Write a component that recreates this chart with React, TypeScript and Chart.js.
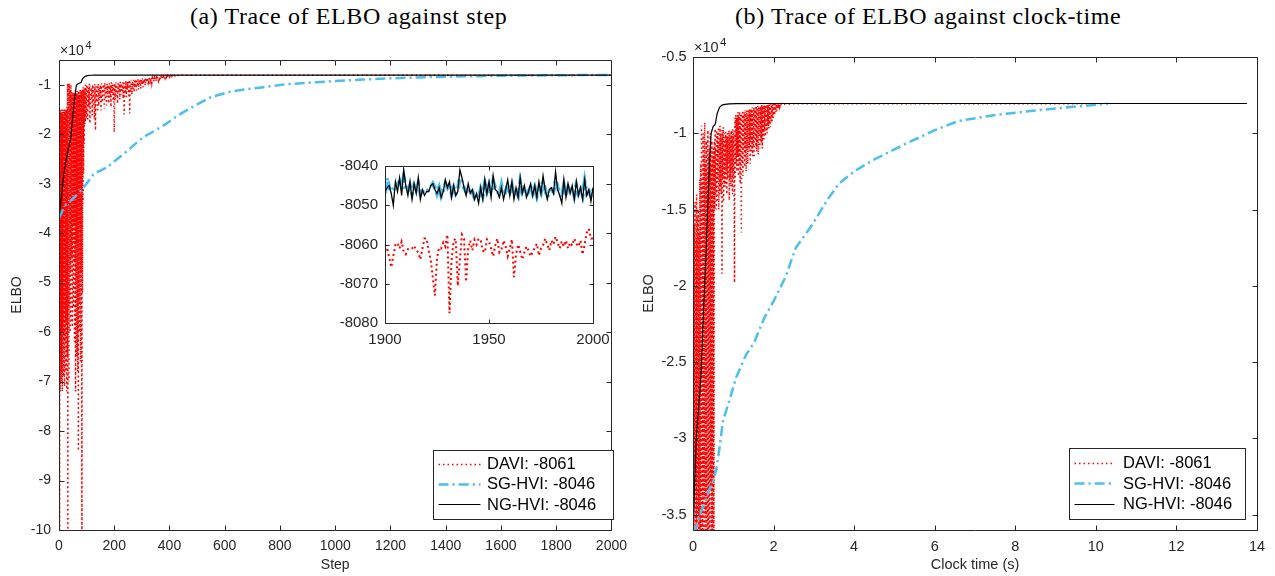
import React, { useEffect, useRef } from "react";
import { Chart, registerables } from "chart.js";

Chart.register(...registerables);

const FONT = "'Liberation Sans', Arial, Helvetica, sans-serif";
const AXIS_COLOR = "#262626";

// ---------- text ----------
const TITLE_A = "(a) Trace of ELBO against step";
const TITLE_B = "(b) Trace of ELBO against clock-time";
const Y_LABEL = "ELBO";
const X_LABEL_A = "Step";
const X_LABEL_B = "Clock time (s)";
const EXP_BASE = "×10";
const EXP_POWER = "4";
const SERIES_NAMES = ["DAVI: -8061", "SG-HVI: -8046", "NG-HVI: -8046"];
const SERIES_COLORS = ["#FF0000", "#4DBEEE", "#000000"];

// ---------- tick values ----------
const X_TICKS_A = [0, 200, 400, 600, 800, 1000, 1200, 1400, 1600, 1800, 2000];
const Y_TICKS_A = [-10, -9, -8, -7, -6, -5, -4, -3, -2, -1];
const X_TICKS_INSET = [1900, 1950, 2000];
const Y_TICKS_INSET = [-8080, -8070, -8060, -8050, -8040];
const X_TICKS_B = [0, 2, 4, 6, 8, 10, 12, 14];
const Y_TICKS_B = [-3.5, -3, -2.5, -2, -1.5, -1, -0.5];

// ---------- inset (steps 1900..2000, raw ELBO) ----------
const INSET_START = 1900;
const DAVI_INSET = [
  -8061.5, -8060.8, -8063.2, -8065.8, -8062.9, -8060.1, -8059.6, -8061.0, -8059.3, -8061.9,
  -8062.5, -8061.2, -8060.9, -8061.0, -8060.3, -8061.5, -8062.0, -8063.8, -8061.0, -8058.5,
  -8058.5, -8061.5, -8064.0, -8068.5, -8073.0, -8063.5, -8060.8, -8061.0, -8059.5, -8060.5,
  -8057.5, -8077.5, -8064.0, -8059.0, -8058.5, -8070.5, -8064.0, -8057.5, -8058.5, -8069.5,
  -8061.0, -8059.0, -8061.5, -8058.8, -8060.0, -8058.5, -8059.0, -8061.5, -8062.0, -8058.7,
  -8059.2, -8061.0, -8063.0, -8060.2, -8058.5, -8062.0, -8061.2, -8059.0, -8060.5, -8063.0,
  -8061.0, -8058.7, -8068.3, -8062.5, -8060.0, -8061.8, -8063.8, -8062.0, -8060.5, -8061.5,
  -8063.0, -8062.0, -8060.8, -8059.8, -8062.8, -8061.0, -8060.2, -8058.5, -8060.0, -8061.5,
  -8059.0, -8060.0, -8058.0, -8059.5, -8061.0, -8059.2, -8060.5, -8059.0, -8061.0, -8059.5,
  -8060.3, -8058.5, -8059.8, -8060.5, -8059.0, -8062.5, -8060.0, -8057.0, -8056.0, -8058.5, -8058.5,
];
const SG_INSET = [
  -8047.0, -8043.0, -8045.5, -8046.5, -8046.0, -8045.0, -8044.5, -8044.0, -8046.0, -8043.0,
  -8045.5, -8046.5, -8045.0, -8047.0, -8045.0, -8046.0, -8044.5, -8047.0, -8046.5, -8047.0,
  -8046.5, -8046.0, -8045.5, -8044.5, -8045.5, -8047.0, -8045.5, -8047.5, -8046.0, -8044.5,
  -8045.5, -8044.5, -8047.0, -8045.5, -8047.0, -8046.0, -8043.0, -8044.0, -8045.5, -8046.5,
  -8045.5, -8047.0, -8046.5, -8048.0, -8047.0, -8048.5, -8046.0, -8047.5, -8044.5, -8046.5,
  -8045.0, -8047.0, -8044.0, -8045.5, -8046.0, -8047.5, -8045.0, -8047.5, -8046.5, -8045.0,
  -8046.5, -8045.0, -8047.5, -8046.5, -8047.5, -8044.0, -8046.5, -8045.5, -8047.5, -8046.5,
  -8045.5, -8047.0, -8045.5, -8047.5, -8045.0, -8046.5, -8044.0, -8046.0, -8048.0, -8046.5,
  -8046.0, -8046.5, -8043.5, -8045.5, -8047.0, -8048.0, -8045.0, -8047.5, -8045.5, -8046.5,
  -8045.5, -8047.5, -8045.0, -8047.0, -8046.0, -8047.5, -8044.0, -8047.0, -8046.5, -8047.5, -8046.0,
];
const NG_INSET = [
  -8046.5, -8045.5, -8045.0, -8047.0, -8050.0, -8044.0, -8046.5, -8043.0, -8047.5, -8041.0,
  -8045.0, -8047.5, -8044.0, -8048.5, -8044.5, -8047.0, -8043.0, -8048.5, -8046.0, -8047.5,
  -8046.5, -8046.5, -8045.0, -8044.5, -8046.0, -8047.0, -8045.5, -8048.0, -8046.5, -8043.5,
  -8045.5, -8044.0, -8048.0, -8045.0, -8047.5, -8046.5, -8041.0, -8043.0, -8045.5, -8047.5,
  -8044.5, -8047.0, -8046.0, -8048.5, -8047.0, -8049.5, -8045.5, -8048.5, -8043.5, -8047.0,
  -8044.0, -8048.0, -8042.5, -8046.0, -8046.5, -8048.0, -8045.5, -8048.5, -8046.0, -8043.5,
  -8047.5, -8044.0, -8048.5, -8045.5, -8048.0, -8043.0, -8047.0, -8045.0, -8048.0, -8046.5,
  -8044.5, -8047.5, -8045.0, -8048.0, -8044.0, -8047.0, -8042.5, -8046.0, -8048.5, -8046.0,
  -8045.5, -8047.0, -8041.5, -8046.0, -8047.5, -8049.5, -8043.5, -8048.0, -8044.5, -8047.0,
  -8045.0, -8048.5, -8044.0, -8047.5, -8045.5, -8048.5, -8043.5, -8047.5, -8046.0, -8049.0, -8045.5,
];

// ---------- panel (a): ELBO (x1e4) against step ----------
// DAVI, every step 0..100
const DAVI_STEP_EARLY = [
  -3.6, -1.6, -10.5, -1.5, -7.2, -1.55, -6.5, -1.5, -7.0, -1.6,
  -6.8, -1.5, -7.2, -1.55, -6.0, -1.5, -6.9, -1.6, -5.5, -1.5,
  -7.1, -1.5, -6.2, -1.55, -6.8, -1.5, -5.8, -1.5, -7.2, -1.45,
  -6.5, -0.98, -10.5, -0.97, -6.0, -1.0, -7.0, -0.97, -5.5, -1.05,
  -6.0, -1.1, -4.8, -1.0, -5.8, -1.2, -4.5, -1.15, -5.9, -1.2,
  -4.2, -1.15, -5.5, -1.2, -3.8, -1.15, -6.2, -1.18, -4.6, -1.12,
  -7.2, -1.15, -5.0, -1.2, -6.5, -1.12, -4.2, -1.18, -6.8, -1.15,
  -8.4, -1.12, -5.4, -1.2, -6.0, -1.15, -3.8, -1.1, -6.6, -1.15,
  -4.8, -1.12, -5.8, -10.5, -1.1, -5.2, -1.08, -3.4, -1.05, -2.8,
  -1.1, -2.2, -1.05, -1.8, -1.1, -1.75, -1.0, -1.6, -1.05, -1.7, -1.02,
];
// DAVI, every 2nd step 102..450
const DAVI_STEP_MID = [
  -1.0, -1.7, -1.05, -1.45, -0.98, -1.78, -1.02, -1.3, -1.06, -1.62,
  -1.0, -1.4, -1.04, -1.7, -0.99, -1.92, -1.03, -1.35, -1.0, -1.55,
  -0.98, -1.42, -1.05, -1.28, -1.0, -1.52, -0.97, -1.36, -1.03, -1.22,
  -0.99, -1.48, -0.96, -1.3, -1.02, -1.42, -0.98, -1.2, -1.0, -1.38,
  -0.97, -1.25, -1.01, -1.45, -0.95, -1.18, -0.99, -1.33, -1.0, -1.96,
  -0.97, -1.3, -0.95, -1.22, -1.0, -1.38, -0.94, -1.15, -0.98, -1.3,
  -0.94, -1.2, -0.97, -1.12, -0.95, -1.28, -0.93, -1.6, -0.96, -1.18,
  -0.92, -1.25, -0.95, -1.1, -0.93, -1.22, -0.9, -1.58, -0.94, -1.15,
  -0.9, -1.2, -0.93, -1.08, -0.9, -1.15, -0.92, -1.05, -0.89, -1.12,
  -0.92, -1.03, -0.89, -1.1, -0.91, -1.0, -0.88, -1.08, -0.9, -0.98,
  -0.87, -1.05, -0.89, -0.97, -0.87, -1.02, -0.88, -0.95, -0.86, -0.99,
  -0.88, -0.94, -0.86, -0.98, -0.87, -0.92, -0.85, -0.96, -0.86, -0.91,
  -0.85, -0.94, -0.86, -0.9, -0.84, -0.93, -0.85, -0.89, -0.84, -0.91,
  -0.85, -0.88, -0.83, -0.9, -0.84, -0.87, -0.83, -0.88, -0.835, -0.86,
  -0.83, -0.87, -0.825, -0.855, -0.83, -0.86, -0.82, -0.85, -0.825, -0.845,
  -0.82, -0.84, -0.818, -0.835, -0.815, -0.83, -0.814, -0.826, -0.812, -0.822,
  -0.811, -0.82, -0.81, -0.817, -0.809, -0.814, -0.808, -0.812, -0.808, -0.811,
  -0.807, -0.81, -0.807, -0.809, -0.807,
];
const DAVI_STEP_LATE_X = [480, 520, 600, 700, 800, 1000, 1200, 1400, 1600, 1800, 1899];
const DAVI_STEP_LATE_Y = [-0.8068, -0.8066, -0.8064, -0.8063, -0.8062, -0.8061, -0.8062, -0.806, -0.8061, -0.8061, -0.8061];

const SG_STEP_X = [0, 20, 43, 70, 90, 126, 174, 233, 305, 350, 388, 430, 483, 550, 620, 680, 740, 820, 931, 1000, 1100, 1200, 1300, 1400, 1500, 1600, 1700, 1800, 1899];
const SG_STEP_Y = [-3.7, -3.45, -3.34, -3.2, -3.07, -2.8, -2.67, -2.4, -2.06, -1.92, -1.79, -1.62, -1.45, -1.25, -1.14, -1.09, -1.05, -0.99, -0.95, -0.925, -0.895, -0.87, -0.852, -0.838, -0.827, -0.818, -0.812, -0.808, -0.8047];

const NG_STEP_X = [0, 10, 19, 30, 43, 52, 58, 63, 68, 73, 80, 85, 92, 102, 115, 126, 200, 400, 800, 1200, 1600, 1899];
const NG_STEP_Y = [-3.69, -3.2, -2.73, -2.4, -2.06, -1.52, -1.2, -1.01, -0.985, -0.97, -0.955, -0.88, -0.84, -0.815, -0.808, -0.8055, -0.805, -0.8047, -0.8046, -0.8046, -0.8046, -0.8046];

// ---------- panel (b): ELBO (x1e4) against clock time ----------
// DAVI, every 0.01 s from 0 to 2.2 s
const DAVI_TIME_DENSE = [
  -3.7, -1.5, -4.0, -1.6, -3.2, -1.45, -4.0, -1.7, -3.8, -1.4,
  -4.0, -1.55, -3.5, -1.5, -4.0, -1.65, -3.9, -1.3, -4.0, -1.2,
  -3.6, -0.95, -4.0, -1.3, -3.7, -1.0, -4.0, -1.15, -3.4, -0.93,
  -4.0, -1.2, -3.5, -1.05, -4.0, -1.25, -3.8, -0.98, -4.0, -1.15,
  -3.8, -1.1, -4.0, -1.0, -3.3, -1.2, -4.0, -1.05, -3.6, -1.15,
  -4.0, -1.1, -3.9, -1.05, -1.5, -0.97, -1.4, -1.1, -1.5, -0.98,
  -1.45, -1.0, -1.3, -0.96, -1.5, -1.05, -1.4, -0.95, -1.35, -1.02,
  -1.4, -0.98, -1.92, -1.0, -1.3, -0.96, -1.45, -1.05, -1.35, -1.0,
  -1.35, -0.99, -1.25, -1.02, -1.4, -1.0, -1.3, -1.03, -1.2, -0.98,
  -1.44, -1.01, -1.3, -1.0, -1.35, -0.98, -1.25, -1.02, -1.4, -0.97,
  -1.3, -1.0, -1.4, -1.98, -0.9, -1.3, -0.88, -1.2, -0.9, -1.25,
  -0.88, -1.15, -0.86, -1.28, -0.89, -1.2, -0.86, -1.33, -0.88, -1.1,
  -1.65, -0.87, -1.2, -0.85, -1.28, -0.88, -1.1, -0.86, -1.22, -0.85,
  -1.15, -0.86, -1.25, -0.85, -1.1, -0.87, -1.2, -0.84, -1.12, -0.86,
  -1.1, -0.84, -1.2, -0.85, -1.05, -0.84, -1.12, -0.83, -1.15, -0.85,
  -1.08, -0.83, -1.16, -0.84, -1.05, -0.83, -1.1, -0.82, -1.12, -0.83,
  -1.08, -0.82, -1.14, -0.83, -1.02, -0.82, -1.1, -0.825, -1.05, -0.82,
  -1.06, -0.815, -1.1, -0.82, -1.0, -0.818, -1.04, -0.815, -0.98, -0.82,
  -1.02, -0.815, -0.96, -0.812, -1.0, -0.814, -0.95, -0.812, -0.97, -0.81,
  -0.94, -0.812, -0.96, -0.81, -0.92, -0.81, -0.93, -0.809, -0.9, -0.808,
  -0.9, -0.81, -0.88, -0.808, -0.87, -0.808, -0.86, -0.808, -0.85, -0.807,
  -0.84, -0.807, -0.83, -0.807, -0.825, -0.807, -0.82, -0.806, -0.815, -0.806, -0.81,
];
const DAVI_TIME_LATE_X = [2.5, 3, 4, 5, 6, 7, 8, 9, 9.9];
const DAVI_TIME_LATE_Y = [-0.8064, -0.8063, -0.8062, -0.8061, -0.8061, -0.8062, -0.8061, -0.8061, -0.8061];

const SG_TIME_X = [0.03, 0.2, 0.49, 0.58, 0.66, 0.74, 0.95, 1.07, 1.32, 1.52, 1.77, 2.02, 2.3, 2.55, 2.96, 3.3, 3.62, 4.0, 4.44, 5.27, 6.0, 6.58, 7.5, 8.5, 9.5, 10.3];
const SG_TIME_Y = [-3.62, -3.48, -3.28, -3.2, -3.06, -2.89, -2.71, -2.6, -2.45, -2.37, -2.21, -2.09, -1.94, -1.75, -1.6, -1.45, -1.33, -1.25, -1.18, -1.07, -0.98, -0.92, -0.88, -0.85, -0.825, -0.806];

const NG_TIME_X = [0, 0.04, 0.08, 0.14, 0.2, 0.26, 0.33, 0.37, 0.41, 0.45, 0.5, 0.54, 0.56, 0.6, 0.66, 0.72, 0.79, 0.9, 1.07, 2, 4, 6, 8, 10, 12, 13.75];
const NG_TIME_Y = [-3.65, -3.3, -3.0, -2.8, -2.58, -2.17, -1.75, -1.45, -1.2, -1.0, -0.955, -0.945, -0.93, -0.87, -0.83, -0.815, -0.81, -0.807, -0.805, -0.8047, -0.8046, -0.8046, -0.8046, -0.8046, -0.8046, -0.8046];

// ---------- helpers ----------
const pts = (xs: number[], ys: number[]) => xs.map((x, i) => ({ x, y: ys[i] }));
const seq = (start: number, stride: number, ys: number[]) =>
  ys.map((y, i) => ({ x: Math.round((start + i * stride) * 1000) / 1000, y }));
const toE4 = (ys: number[]) => ys.map((v) => v / 10000);

const STYLE_MAIN = [
  { borderColor: SERIES_COLORS[0], borderWidth: 1.5, borderDash: [1.5, 3] },
  { borderColor: SERIES_COLORS[1], borderWidth: 2.5, borderDash: [10, 4, 2.2, 4] },
  { borderColor: SERIES_COLORS[2], borderWidth: 1.2, borderDash: [] as number[] },
];
const STYLE_INSET = [
  { borderColor: SERIES_COLORS[0], borderWidth: 2, borderDash: [2, 3] },
  { borderColor: SERIES_COLORS[1], borderWidth: 4, borderDash: [9, 4, 2.5, 4] },
  { borderColor: SERIES_COLORS[2], borderWidth: 1.3, borderDash: [] as number[] },
];

function makeDatasets(series: any[][], styles: any[]) {
  return series.map((data, i) => ({
    label: SERIES_NAMES[i],
    data,
    ...styles[i],
    pointRadius: 0,
    fill: false,
    tension: 0,
    clip: 0,
    order: 2 - i,
  }));
}

function fixedTicks(values: number[]) {
  return (axis: any) => {
    axis.ticks = values.map((v) => ({ value: v }));
  };
}

function makeMatlabPlugin(cfg: any) {
  return {
    id: "matlabAxes",
    beforeDatasetsDraw(chart: any) {
      if (!cfg.whiteBg) return;
      const { ctx, chartArea: a } = chart;
      ctx.save();
      ctx.fillStyle = "#ffffff";
      ctx.fillRect(a.left, a.top, a.right - a.left, a.bottom - a.top);
      ctx.restore();
    },
    afterDraw(chart: any) {
      const { ctx, chartArea: a, scales } = chart;
      const L = Math.round(a.left) + 0.5;
      const R = Math.round(a.right) + 0.5;
      const T = Math.round(a.top) + 0.5;
      const B = Math.round(a.bottom) + 0.5;
      const tl = cfg.tickLen;
      ctx.save();
      ctx.setLineDash([]);
      ctx.strokeStyle = AXIS_COLOR;
      ctx.lineWidth = 1;
      ctx.beginPath();
      ctx.rect(L, T, R - L, B - T);
      for (const t of scales.x.ticks) {
        const p = Math.round(scales.x.getPixelForValue(t.value)) + 0.5;
        ctx.moveTo(p, B);
        ctx.lineTo(p, B - tl);
        ctx.moveTo(p, T);
        ctx.lineTo(p, T + tl);
      }
      for (const t of scales.y.ticks) {
        const p = Math.round(scales.y.getPixelForValue(t.value)) + 0.5;
        ctx.moveTo(L, p);
        ctx.lineTo(L + tl, p);
        ctx.moveTo(R, p);
        ctx.lineTo(R - tl, p);
      }
      ctx.stroke();

      if (cfg.exponent) {
        const e = cfg.exponent;
        ctx.fillStyle = AXIS_COLOR;
        ctx.textAlign = "left";
        ctx.textBaseline = "alphabetic";
        ctx.font = `${e.size}px ${FONT}`;
        ctx.fillText(EXP_BASE, e.x, e.y);
        const w = ctx.measureText(EXP_BASE).width;
        ctx.font = `${e.supSize}px ${FONT}`;
        ctx.fillText(EXP_POWER, e.x + w + 1.5, e.y - e.rise);
      }

      if (cfg.legend) {
        const lg = cfg.legend;
        ctx.fillStyle = "#ffffff";
        ctx.fillRect(lg.x, lg.y, lg.w, lg.h);
        ctx.strokeStyle = AXIS_COLOR;
        ctx.lineWidth = 1;
        ctx.strokeRect(Math.round(lg.x) + 0.5, Math.round(lg.y) + 0.5, lg.w, lg.h);
        chart.data.datasets.forEach((ds: any, i: number) => {
          const y = lg.y + lg.rows[i];
          ctx.save();
          ctx.strokeStyle = ds.borderColor;
          ctx.lineWidth = ds.borderWidth;
          ctx.setLineDash(ds.borderDash || []);
          ctx.beginPath();
          ctx.moveTo(lg.x + lg.line0, Math.round(y) + 0.5);
          ctx.lineTo(lg.x + lg.line1, Math.round(y) + 0.5);
          ctx.stroke();
          ctx.restore();
          ctx.fillStyle = "#000000";
          ctx.font = `${lg.size}px ${FONT}`;
          ctx.textAlign = "left";
          ctx.textBaseline = "middle";
          ctx.fillText(ds.label, lg.x + lg.textX, y + 1);
        });
      }
      ctx.restore();
    },
  };
}

function axisOpts(o: any) {
  return {
    type: "linear",
    min: o.min,
    max: o.max,
    afterFit: (s: any) => {
      if (o.width !== undefined) s.width = o.width;
      if (o.height !== undefined) s.height = o.height;
    },
    afterBuildTicks: fixedTicks(o.ticks),
    grid: { display: false, drawTicks: false },
    border: { display: false },
    ticks: {
      padding: o.pad,
      autoSkip: false,
      maxRotation: 0,
      color: AXIS_COLOR,
      font: { family: FONT, size: o.font },
      callback: (v: any) => String(Math.round(v * 1000) / 1000),
    },
    title: o.title
      ? {
          display: true,
          text: o.title,
          color: AXIS_COLOR,
          font: { family: FONT, size: o.font },
          padding: o.titlePad,
        }
      : { display: false },
  };
}

function baseOptions(padding: any, x: any, y: any) {
  return {
    responsive: false,
    animation: false,
    events: [],
    layout: { padding },
    plugins: { legend: { display: false }, tooltip: { enabled: false }, title: { display: false } },
    elements: { point: { radius: 0 }, line: { tension: 0 } },
    scales: { x: axisOpts(x), y: axisOpts(y) },
  };
}

export default function App() {
  const leftRef = useRef<HTMLCanvasElement>(null);
  const insetRef = useRef<HTMLCanvasElement>(null);
  const rightRef = useRef<HTMLCanvasElement>(null);

  useEffect(() => {
    const tailDavi = seq(INSET_START, 1, toE4(DAVI_INSET));
    const tailSg = seq(INSET_START, 1, toE4(SG_INSET));
    const tailNg = seq(INSET_START, 1, toE4(NG_INSET));

    const leftSeries = [
      [...seq(0, 1, DAVI_STEP_EARLY), ...seq(102, 2, DAVI_STEP_MID), ...pts(DAVI_STEP_LATE_X, DAVI_STEP_LATE_Y), ...tailDavi],
      [...pts(SG_STEP_X, SG_STEP_Y), ...tailSg],
      [...pts(NG_STEP_X, NG_STEP_Y), ...tailNg],
    ];
    const insetSeries = [
      seq(INSET_START, 1, DAVI_INSET),
      seq(INSET_START, 1, SG_INSET),
      seq(INSET_START, 1, NG_INSET),
    ];
    const rightSeries = [
      [...seq(0, 0.01, DAVI_TIME_DENSE), ...pts(DAVI_TIME_LATE_X, DAVI_TIME_LATE_Y)],
      pts(SG_TIME_X, SG_TIME_Y),
      pts(NG_TIME_X, NG_TIME_Y),
    ];

    const left = new Chart(leftRef.current as any, {
      type: "line",
      data: { datasets: makeDatasets(leftSeries, STYLE_MAIN) as any },
      options: baseOptions(
        { left: 0, top: 60, right: 16, bottom: 0 },
        { min: 0, max: 2000, ticks: X_TICKS_A, height: 46, pad: 8, font: 14, title: X_LABEL_A, titlePad: { top: 0, bottom: 2 } },
        { min: -10, max: -0.5, ticks: Y_TICKS_A, width: 59, pad: 8, font: 14, title: Y_LABEL, titlePad: { top: 9, bottom: 0 } }
      ) as any,
      plugins: [
        makeMatlabPlugin({
          tickLen: 5,
          exponent: { x: 60, y: 55, size: 14, supSize: 11.5, rise: 6 },
          legend: { x: 433, y: 450, w: 180, h: 69, rows: [13.5, 33.5, 54], line0: 5.5, line1: 47.5, textX: 54, size: 16.5 },
        }),
      ],
    });

    const inset = new Chart(insetRef.current as any, {
      type: "line",
      data: { datasets: makeDatasets(insetSeries, STYLE_INSET) as any },
      options: baseOptions(
        { left: 0, top: 10, right: 27, bottom: 0 },
        { min: 1900, max: 2000, ticks: X_TICKS_INSET, height: 27, pad: 8, font: 15 },
        { min: -8080, max: -8040, ticks: Y_TICKS_INSET, width: 65, pad: 7, font: 15 }
      ) as any,
      plugins: [makeMatlabPlugin({ tickLen: 4, whiteBg: true })],
    });

    const right = new Chart(rightRef.current as any, {
      type: "line",
      data: { datasets: makeDatasets(rightSeries, STYLE_MAIN) as any },
      options: baseOptions(
        { left: 0, top: 57, right: 18, bottom: 0 },
        { min: 0, max: 14, ticks: X_TICKS_B, height: 46, pad: 8, font: 14.5, title: X_LABEL_B, titlePad: { top: 0, bottom: 2 } },
        { min: -3.6, max: -0.5, ticks: Y_TICKS_B, width: 53, pad: 6.5, font: 14.5, title: Y_LABEL, titlePad: { top: 0, bottom: 0 } }
      ) as any,
      plugins: [
        makeMatlabPlugin({
          tickLen: 5,
          exponent: { x: 54, y: 52, size: 14.5, supSize: 11.5, rise: 6 },
          legend: { x: 429, y: 448, w: 176, h: 71, rows: [14.5, 35, 55.5], line0: 5.5, line1: 45.5, textX: 54, size: 16.5 },
        }),
      ],
    });

    return () => {
      left.destroy();
      inset.destroy();
      right.destroy();
    };
  }, []);

  const titleStyle: any = {
    position: "absolute",
    top: 1,
    font: "24px 'Liberation Serif', 'Times New Roman', serif",
    letterSpacing: "0.6px",
    lineHeight: "30px",
    whiteSpace: "nowrap",
    color: "#000",
  };

  return (
    <div style={{ position: "absolute", left: 0, top: 0, width: 1275, height: 576, background: "#fff", overflow: "hidden" }}>
      <div style={{ ...titleStyle, left: 190 }}>{TITLE_A}</div>
      <div style={{ ...titleStyle, left: 735 }}>{TITLE_B}</div>
      <canvas ref={leftRef} width={635} height={576} style={{ position: "absolute", left: 0, top: 0, display: "block" }} />
      <canvas ref={insetRef} width={300} height={200} style={{ position: "absolute", left: 320, top: 150, display: "block" }} />
      <canvas ref={rightRef} width={635} height={576} style={{ position: "absolute", left: 640, top: 0, display: "block" }} />
    </div>
  );
}
